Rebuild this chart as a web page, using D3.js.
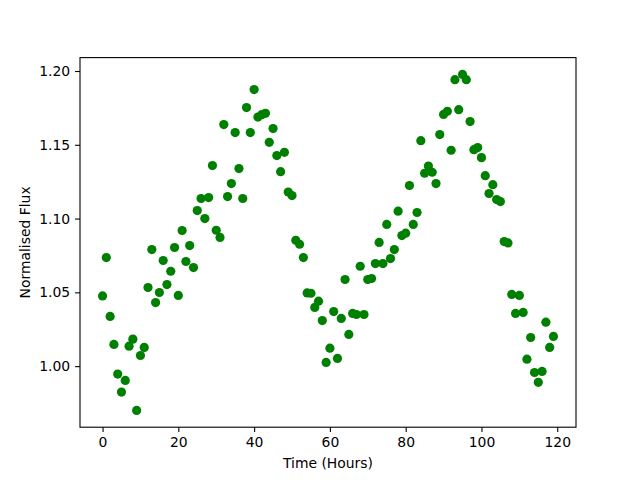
<!DOCTYPE html>
<html>
<head>
<meta charset="utf-8">
<script src="https://cdn.jsdelivr.net/npm/d3@7"></script>
<style>
  body { margin: 0; background: #fff; }
  text { font-family: "DejaVu Sans", sans-serif; }
</style>
</head>
<body>
<div id="plot"></div>
<script>
// hourly flux readings, t = 0 .. 119
const hours = d3.range(0, 120);
const flux = [
  1.0476, 1.0736, 1.0337, 1.0147, 0.9946, 0.9824, 0.9903, 1.0135, 1.0183, 0.9700,
  1.0072, 1.0127, 1.0533, 1.0790, 1.0431, 1.0499, 1.0716, 1.0553, 1.0643, 1.0804,
  1.0479, 1.0919, 1.0709, 1.0817, 1.0668, 1.1054, 1.1136, 1.1000, 1.1142, 1.1359,
  1.0921, 1.0872, 1.1637, 1.1149, 1.1237, 1.1583, 1.1339, 1.1136, 1.1752, 1.1583,
  1.1874, 1.1688, 1.1704, 1.1713, 1.1517, 1.1610, 1.1427, 1.1318, 1.1449, 1.1180,
  1.1156, 1.0853, 1.0826, 1.0736, 1.0496, 1.0494, 1.0398, 1.0440, 1.0309, 1.0025,
  1.0122, 1.0370, 1.0052, 1.0323, 1.0587, 1.0215, 1.0357, 1.0350, 1.0677, 1.0350,
  1.0587, 1.0594, 1.0695, 1.0838, 1.0695, 1.0960, 1.0729, 1.0790, 1.1050, 1.0885,
  1.0901, 1.1224, 1.0960, 1.1041, 1.1528, 1.1307, 1.1356, 1.1314, 1.1237, 1.1569,
  1.1706, 1.1727, 1.1463, 1.1941, 1.1738, 1.1977, 1.1941, 1.1657, 1.1467, 1.1481,
  1.1413, 1.1291, 1.1170, 1.1230, 1.1129, 1.1115, 1.0844, 1.0835, 1.0486, 1.0357,
  1.0479, 1.0364, 1.0047, 1.0194, 0.9957, 0.9890, 0.9964, 1.0298, 1.0127, 1.0201
];
const xTicks = [0, 20, 40, 60, 80, 100, 120];
const yTicks = [1.00, 1.05, 1.10, 1.15, 1.20];

const margin = {top: 57.6, right: 64, bottom: 52.8, left: 80};
const width = 640 - margin.left - margin.right;
const height = 480 - margin.top - margin.bottom;

const svg = d3.select("#plot")
  .append("svg")
  .attr("width", 640)
  .attr("height", 480)
  .append("g")
  .attr("transform", "translate(" + margin.left + "," + margin.top + ")");

// matplotlib style 5% padding around the data
function padded(ext) {
  const p = (ext[1] - ext[0]) * 0.05;
  return [ext[0] - p, ext[1] + p];
}

const x = d3.scaleLinear().domain(padded(d3.extent(hours))).range([0, width]);
const y = d3.scaleLinear().domain(padded(d3.extent(flux))).range([height, 0]);

// points
svg.selectAll("circle")
  .data(hours)
  .enter()
  .append("circle")
  .attr("cx", d => x(d))
  .attr("cy", (d, i) => y(flux[i]))
  .attr("r", 4.6)
  .attr("fill", "#008000");

// axes
const xAxis = svg.append("g")
  .attr("transform", "translate(0," + height + ")")
  .call(d3.axisBottom(x).tickValues(xTicks).tickSize(4.9).tickPadding(4.9));

const yAxis = svg.append("g")
  .call(d3.axisLeft(y).tickValues(yTicks).tickFormat(d3.format(".2f")).tickSize(4.9).tickPadding(4.9));

[xAxis, yAxis].forEach(a => {
  a.select(".domain").remove();
  a.selectAll("line").attr("stroke", "#000").attr("stroke-width", 1.1);
  a.selectAll("text").attr("fill", "#000").style("font-size", "13.9px").style("font-family", "DejaVu Sans");
});

// frame
svg.append("rect")
  .attr("width", width)
  .attr("height", height)
  .attr("fill", "none")
  .attr("stroke", "#000")
  .attr("stroke-width", 1.1);

// labels
svg.append("text")
  .attr("x", width / 2)
  .attr("y", height + 41)
  .attr("text-anchor", "middle")
  .style("font-size", "13.9px")
  .text("Time (Hours)");

svg.append("text")
  .attr("transform", "translate(" + (-50) + "," + (height / 2) + ")rotate(-90)")
  .attr("text-anchor", "middle")
  .style("font-size", "13.9px")
  .text("Normalised Flux");
</script>
</body>
</html>
